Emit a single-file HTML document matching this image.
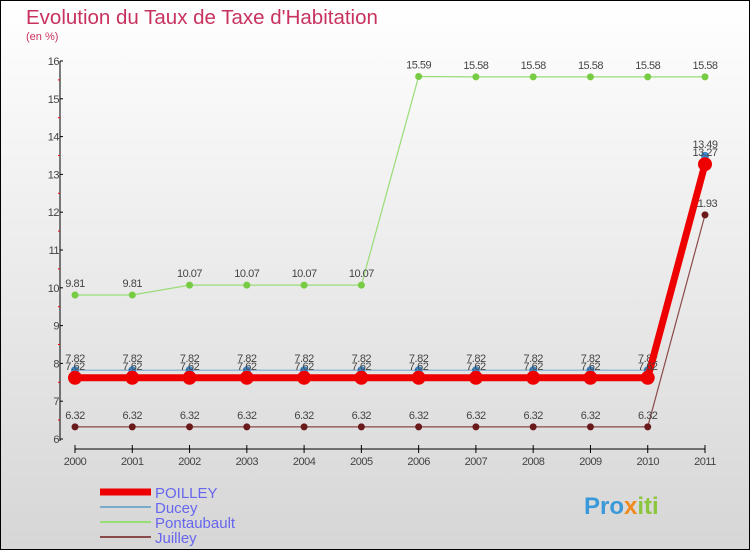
<!DOCTYPE html>
<html><head><meta charset="utf-8"><style>
body{margin:0;width:750px;height:550px;overflow:hidden}
svg{display:block;font-family:"Liberation Sans","DejaVu Sans",sans-serif}
</style></head><body>
<svg id="c" width="750" height="550">
<defs><linearGradient id="bg" x1="0" y1="0" x2="0" y2="1"><stop offset="0" stop-color="#ffffff"/><stop offset="1" stop-color="#d6d6d6"/></linearGradient></defs>
<rect x="0.5" y="0.5" width="749" height="549" fill="url(#bg)" stroke="#000"/>
<text x="26" y="24" font-size="20.5" fill="#c8325e">Evolution du Taux de Taxe d'Habitation</text>
<text x="26" y="40" font-size="11" fill="#c8325e">(en %)</text>
<g id="axes"></g><g id="series"></g><g id="legend"></g>
<text x="584" y="514" font-size="24" font-weight="bold" fill="#3a9ad9">Pro<tspan fill="#f08a1e">x</tspan><tspan fill="#8cc63f">iti</tspan></text>
</svg>
<script>
const years=[2000,2001,2002,2003,2004,2005,2006,2007,2008,2009,2010,2011];
const poilley=[7.62,7.62,7.62,7.62,7.62,7.62,7.62,7.62,7.62,7.62,7.62,13.27];
const ducey=[7.82,7.82,7.82,7.82,7.82,7.82,7.82,7.82,7.82,7.82,7.82,13.49];
const pontaubault=[9.81,9.81,10.07,10.07,10.07,10.07,15.59,15.58,15.58,15.58,15.58,15.58];
const juilley=[6.32,6.32,6.32,6.32,6.32,6.32,6.32,6.32,6.32,6.32,6.32,11.93];
const yTicks=[6,7,8,9,10,11,12,13,14,15,16];
const NS="http://www.w3.org/2000/svg";
const X=i=>75+i*(630/11);
const Y=v=>439-(v-6)*37.8;
function el(t,a,p){const e=document.createElementNS(NS,t);for(const k in a)e.setAttribute(k,a[k]);p.appendChild(e);return e;}
const ax=document.getElementById('axes');
let l=el('line',{x1:60,y1:61,x2:60,y2:441,stroke:'#000'},ax);

l=el('line',{x1:75,y1:449,x2:705,y2:449,stroke:'#000'},ax);

yTicks.forEach((v,i)=>{
 el('line',{x1:60,y1:Y(v),x2:63,y2:Y(v),stroke:'#000'},ax);
 if(i<yTicks.length-1) el('line',{x1:58,y1:Y(v+0.5),x2:60,y2:Y(v+0.5),stroke:'#e00'},ax);
 const t=el('text',{x:59,y:Y(v)+4,'font-size':11,'text-anchor':'end',fill:'#444','letter-spacing':'-0.5'},ax);
 t.textContent=v;
 
});
years.forEach((y,i)=>{
 el('line',{x1:X(i),y1:445,x2:X(i),y2:453,stroke:'#000'},ax);
 const t=el('text',{x:X(i),y:465,'font-size':11,'text-anchor':'middle',fill:'#444','letter-spacing':'-0.5'},ax);
 t.textContent=y;
 
});
const sg=document.getElementById('series');
function series(name,data,color,w,dot,dotC,lab){
 const g=el('g',{},sg);
 
 el('polyline',{points:data.map((v,i)=>X(i)+','+Y(v)).join(' '),fill:'none',stroke:color,'stroke-width':w},g);
 data.forEach((v,i)=>{
  const c=el('circle',{cx:X(i),cy:Y(v),r:dot,fill:dotC},g);
  
  const t=el('text',{x:X(i),y:Y(v)-lab,'font-size':11,'text-anchor':'middle',fill:'#444','letter-spacing':'-0.5'},g);
  t.textContent=v.toFixed(2);
  
 });
}
series('juilley',juilley,'#8a4a4a',1.2,3.5,'#6a1a1a',8);
series('pontaubault',pontaubault,'#99dd77',1.2,3.5,'#77cc44',8);
series('ducey',ducey,'#7aaacc',1.2,4,'#3a88cc',8);
series('poilley',poilley,'#ee0000',7,7,'#ee0000',8);
const lg=document.getElementById('legend');
[['POILLEY','#ee0000',7],['Ducey','#7aaacc',2],['Pontaubault','#99dd77',2],['Juilley','#8a4a4a',2]].forEach((d,i)=>{
 const g=el('g',{},lg);
 
 const yy=492+i*15;
 el('line',{x1:100,y1:yy,x2:151,y2:yy,stroke:d[1],'stroke-width':d[2]},g);
 const t=el('text',{x:155,y:yy+6,'font-size':15,fill:'#6666ee'},g);
 t.textContent=d[0];
});
</script>
</body></html>
